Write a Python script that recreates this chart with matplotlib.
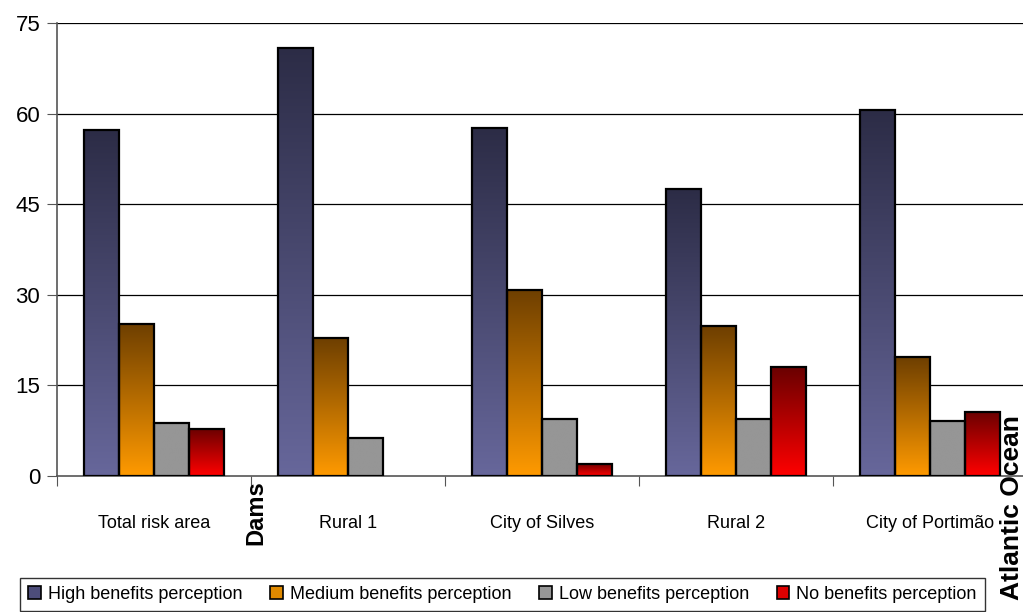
import numpy as np
import matplotlib
matplotlib.use("Agg")
import matplotlib.pyplot as plt
from matplotlib import font_manager
from matplotlib.colors import LinearSegmentedColormap
from matplotlib.patches import Rectangle

available = {f.name for f in font_manager.fontManager.ttflist}
narrow = "Liberation Sans Narrow" if "Liberation Sans Narrow" in available else "Liberation Sans"
plt.rcParams["font.family"] = [narrow, "DejaVu Sans"]

categories = ["Total risk area", "Rural 1", "City of Silves", "Rural 2", "City of Portimão"]
series_names = ["High benefits perception", "Medium benefits perception",
                "Low benefits perception", "No benefits perception"]
high = [57.3, 70.9, 57.6, 47.5, 60.6]
medium = [25.2, 22.8, 30.8, 24.8, 19.7]
low = [8.8, 6.3, 9.4, 9.4, 9.1]
none_ = [7.8, 0.0, 2.0, 18.0, 10.6]
yticks = [0, 15, 30, 45, 60, 75]

# (top colour, bottom colour) of each series' vertical gradient
gradients = [("#2c2c46", "#67679b"), ("#6e3f00", "#ff9a00"),
             ("#969696", "#969696"), ("#6a0000", "#ff0000")]
legend_colors = ["#4d4d7a", "#e08a00", "#969696", "#dd0000"]

fig = plt.figure(figsize=(10.23, 6.12), dpi=100)
ax = fig.add_axes([57 / 1023, 1 - 476 / 612, 970 / 1023, 453 / 612])

bw = 0.181
offsets = (np.arange(4) - 1.5) * bw
x = np.arange(len(categories))
grad = np.linspace(0, 1, 256).reshape(-1, 1)
for s, vals in enumerate([high, medium, low, none_]):
    top, bottom = gradients[s]
    cmap = LinearSegmentedColormap.from_list("g%d" % s, [bottom, top])
    for i, v in enumerate(vals):
        if v <= 0:
            continue
        x0 = x[i] + offsets[s] - bw / 2
        ax.imshow(grad, cmap=cmap, origin="lower", aspect="auto",
                  extent=(x0, x0 + bw, 0, v), zorder=3, interpolation="bilinear")
        ax.add_patch(Rectangle((x0, 0), bw, v, fill=False, edgecolor="black",
                               linewidth=1.6, zorder=4))
ax.set_xlim(-0.5, 4.5)
ax.set_ylim(0, 75)

for yv in yticks[1:]:
    ax.axhline(yv, color="black", linewidth=0.9, zorder=1)
ax.set_yticks(yticks)
ax.set_yticklabels([str(t) for t in yticks], fontsize=16)
ax.set_xticks(np.arange(-0.5, 4.6, 1.0))
ax.set_xticklabels([])
ax.set_xticks(x, minor=True)
ax.set_xticklabels(categories, minor=True, fontsize=13)
ax.tick_params(axis="x", which="minor", length=0, pad=28)
ax.tick_params(axis="x", which="major", length=7, direction="out", color="#555555")
ax.tick_params(axis="y", length=7, direction="out", color="#555555", pad=5)
for side in ["top", "right"]:
    ax.spines[side].set_visible(False)
for side in ["left", "bottom"]:
    ax.spines[side].set_color("#555555")
    ax.spines[side].set_linewidth(1.2)

fig.text(256 / 1023, 1 - 513 / 612, "Dams", rotation=90, fontsize=17, fontweight="bold",
         ha="center", va="center", family=["Liberation Sans", "DejaVu Sans"])
fig.text(1012 / 1023, 1 - 508 / 612, "Atlantic Ocean", rotation=90, fontsize=19,
         fontweight="bold", ha="center", va="center", family=["Liberation Sans", "DejaVu Sans"])

handles = [Rectangle((0, 0), 1, 1, facecolor=c, edgecolor="black", linewidth=1.2)
           for c in legend_colors]
leg = fig.legend(handles, series_names, loc="lower left",
                 bbox_to_anchor=(20 / 1023, 1 / 612, 965 / 1023, 38 / 612),
                 mode="expand", ncol=4, fontsize=13, frameon=True, fancybox=False,
                 handlelength=0.7, handleheight=0.7, handletextpad=0.4,
                 columnspacing=0.6, borderpad=0.45, borderaxespad=0)
leg.get_frame().set_edgecolor("black")
leg.get_frame().set_linewidth(1.0)

fig.savefig("out.png", dpi=100)
